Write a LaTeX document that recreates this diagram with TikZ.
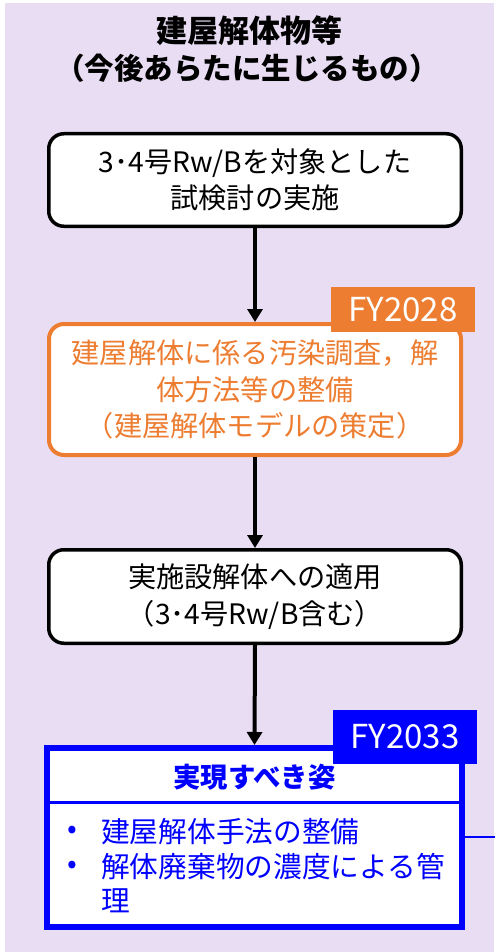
\documentclass[tikz,border=0pt]{standalone}
\usepackage{fontspec}
\setmainfont{Noto Sans CJK JP}
\usetikzlibrary{arrows.meta}
\definecolor{bgpurple}{RGB}{233,221,243}
\definecolor{orng}{RGB}{237,125,49}
\definecolor{pblue}{RGB}{0,0,255}
\tikzset{
  flowbox/.style={draw=black, line width=3.5pt, rounded corners=15pt, fill=white,
    minimum width=412.5pt, align=center, inner sep=0pt,
    font=\fontsize{28.2}{36.5}\selectfont},
  orangebox/.style={flowbox, draw=orng, line width=4pt, text=orng, minimum width=412pt},
  tagbox/.style={inner sep=0pt, text=white, font=\fontsize{33}{33}\selectfont},
  conn/.style={draw=black, line width=4pt, -{Triangle[length=13pt,width=15pt]}},
  bodytext/.style={text=pblue, inner sep=0pt, anchor=west, font=\fontsize{28.7}{30}\selectfont},
  titletext/.style={inner sep=0pt, font=\bfseries}
}
\begin{document}
\begin{tikzpicture}[x=1pt,y=-1pt]
\useasboundingbox (0,0) rectangle (495,952);
\fill[bgpurple] (5,3) rectangle (493.5,952);

\node[titletext, font=\bfseries\fontsize{31}{37}\selectfont] (title1) at (249,31) {建屋解体物等};
\node[titletext, font=\bfseries\fontsize{29.5}{37}\selectfont] (title2) at (247,68) {（今後あらたに生じるもの）};

\node[flowbox, minimum height=92.5pt] (b1) at (255,180)
  {3･4号Rw/Bを対象とした\\試検討の実施};

\node[orangebox, minimum height=131pt] (b2) at (255,389.5)
  {建屋解体に係る汚染調査，解\\体方法等の整備\\（建屋解体モデルの策定）};
\node[tagbox, fill=orng, minimum width=144pt, minimum height=45pt] (t1) at (403,309.5) {FY2028};

\node[flowbox, minimum height=93.5pt] (b3) at (255,596.5)
  {実施設解体への適用\\（3･4号Rw/B含む）};

\node[draw=pblue, line width=6pt, fill=white, minimum width=415pt, minimum height=179pt, inner sep=0pt] (b4) at (254.5,837.5) {};
\coordinate (sepy) at (0,802);
\draw[pblue, line width=3pt] (b4.west |- sepy) -- (b4.east |- sepy);
\node[tagbox, fill=pblue, minimum width=144pt, minimum height=54pt] (t2) at (405,737) {FY2033};
\node[text=pblue, inner sep=0pt, font=\bfseries\fontsize{27.4}{30}\selectfont] (hdr) at (254.5,777) {実現すべき姿};
\node[bodytext, anchor=center] (d1) at (72,832) {•};
\node[bodytext] (i1) at (101,832) {建屋解体手法の整備};
\node[bodytext, anchor=center] (d2) at (72,867) {•};
\node[bodytext] (i2) at (101,867) {解体廃棄物の濃度による管};
\node[bodytext] (i3) at (101,901) {理};

\coordinate (rend) at (495,837);
\draw[pblue, line width=2.5pt] (b4.east |- rend) -- (rend);

\draw[conn] (b1.south) -- (b2.north);
\draw[conn] (b2.south) -- (b3.north);
\draw[conn] (b3.south) -- (b4.north);
\end{tikzpicture}
\end{document}
